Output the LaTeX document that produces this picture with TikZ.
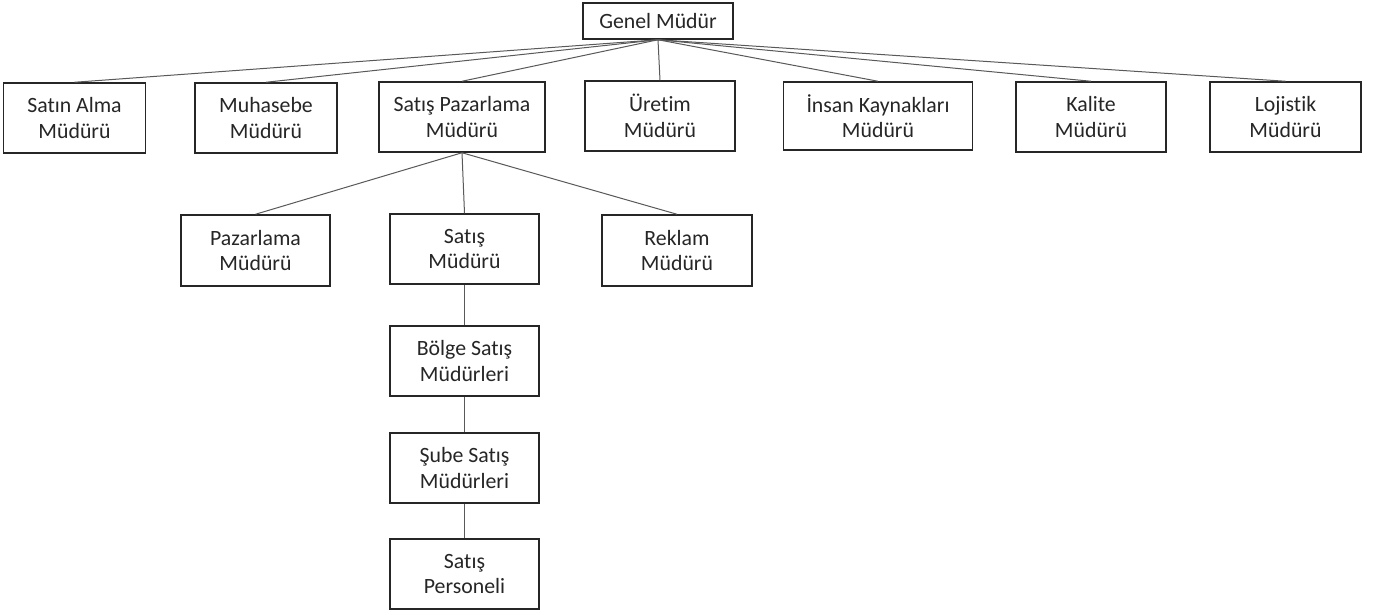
\documentclass[tikz,border=0pt]{standalone}
\usepackage{fontspec}
\setmainfont[Ligatures=NoCommon]{Carlito}
\begin{document}
\begin{tikzpicture}[x=1pt,y=-1pt,
  box/.style={draw=black!85,line width=1.5pt,fill=white,align=center,inner sep=0pt,
    text=black!85,font=\fontsize{21.8}{25.5}\selectfont},
  conn/.style={draw=black!65,line width=1pt}]
\useasboundingbox[fill=white] (0,0) rectangle (1373,614);
\node[box,minimum width=150pt,minimum height=36pt] (gm) at (658,21) {Genel Müdür};
\node[box,minimum width=142pt,minimum height=70pt] (sa) at (74.5,118) {Satın Alma\\Müdürü};
\node[box,minimum width=142pt,minimum height=70pt] (mu) at (266,118) {Muhasebe\\Müdürü};
\node[box,minimum width=166pt,minimum height=70pt] (sp) at (462,117) {Satış Pazarlama\\Müdürü};
\node[box,minimum width=150pt,minimum height=70pt] (ur) at (660,116) {Üretim\\Müdürü};
\node[box,minimum width=189pt,minimum height=68pt] (ik) at (878,116) {İnsan Kaynakları\\Müdürü};
\node[box,minimum width=150pt,minimum height=70pt] (ka) at (1091,117) {Kalite\\Müdürü};
\node[box,minimum width=151pt,minimum height=70pt] (lo) at (1285.5,117) {Lojistik\\Müdürü};
\node[box,minimum width=149pt,minimum height=71pt] (pz) at (255.5,250.5) {Pazarlama\\Müdürü};
\node[box,minimum width=149pt,minimum height=70pt] (sm) at (464.5,249) {Satış\\Müdürü};
\node[box,minimum width=150pt,minimum height=71pt] (re) at (677,250.5) {Reklam\\Müdürü};
\node[box,minimum width=149pt,minimum height=70pt] (bo) at (464.5,361) {Bölge Satış\\Müdürleri};
\node[box,minimum width=149pt,minimum height=70pt] (su) at (464.5,468) {Şube Satış\\Müdürleri};
\node[box,minimum width=149pt,minimum height=70pt] (pe) at (464.5,574) {Satış\\Personeli};
\foreach \c in {sa,mu,sp,ur,ik,ka,lo} \draw[conn] (gm.south) -- (\c.north);
\foreach \c in {pz,sm,re} \draw[conn] (sp.south) -- (\c.north);
\draw[conn] (sm.south) -- (bo.north);
\draw[conn] (bo.south) -- (su.north);
\draw[conn] (su.south) -- (pe.north);
\end{tikzpicture}
\end{document}
